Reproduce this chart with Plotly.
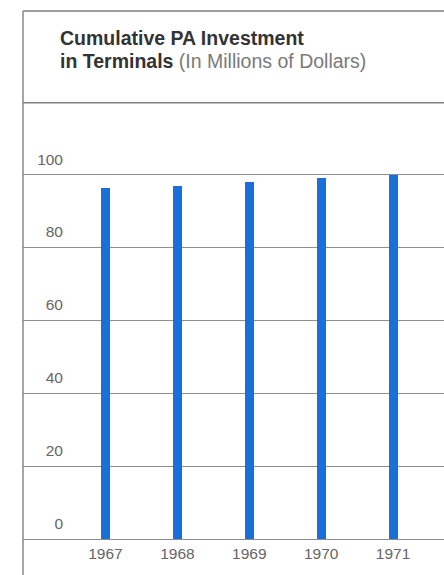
import plotly.graph_objects as go

# Cumulative investment in terminals, millions of dollars
years = ["1967", "1968", "1969", "1970", "1971"]
investment = [96.5, 96.9, 98.0, 99.1, 100.0]
y_ticks = [0, 20, 40, 60, 80, 100]

W, H = 444, 575
ML, MT = 23, 11
PW, PH = W - ML, H - MT

def py(pixel_y):
    """Convert a pixel row (from top) to paper coordinates."""
    return (H - pixel_y) / PH

def px(pixel_x):
    return (pixel_x - ML) / PW

grid_col = "#8e8e8e"
frame_col = "#808080"
tick_col = "#666666"
font_family = "Liberation Sans, Arial, Helvetica, sans-serif"

fig = go.Figure(
    go.Bar(
        x=list(range(len(years))),
        y=investment,
        width=0.125,
        marker=dict(color="#1b6fd8", line=dict(width=0)),
        hoverinfo="skip",
    )
)

fig.update_layout(
    width=W,
    height=H,
    margin=dict(l=ML, r=0, t=MT, b=0, pad=0),
    paper_bgcolor="white",
    plot_bgcolor="white",
    showlegend=False,
    font=dict(family=font_family, color=tick_col),
    bargap=0,
    xaxis=dict(
        range=[-1.147, 4.708],
        tickvals=list(range(len(years))),
        ticktext=years,
        tickfont=dict(size=15.5, color=tick_col),
        showgrid=False,
        zeroline=False,
        showline=False,
        ticks="",
        ticklabelstandoff=3,
        anchor="free",
        position=py(539.3),
        fixedrange=True,
    ),
    yaxis=dict(
        range=[-9.8, 145.0],
        tickvals=y_ticks,
        tickfont=dict(size=15.5, color=tick_col),
        showgrid=True,
        gridcolor=grid_col,
        gridwidth=1.3,
        zeroline=False,
        showline=False,
        ticks="",
        anchor="free",
        position=px(63),
        ticklabelposition="outside top",
        ticklabelshift=-5,
        fixedrange=True,
    ),
    shapes=[
        # outer frame: left edge and top edge
        dict(type="line", xref="paper", yref="paper", x0=0, x1=0, y0=0, y1=1,
             line=dict(color=frame_col, width=1.4)),
        dict(type="line", xref="paper", yref="paper", x0=0, x1=1, y0=1, y1=1,
             line=dict(color=frame_col, width=1.4)),
        # rule under the heading
        dict(type="line", xref="paper", yref="paper", x0=0, x1=1,
             y0=py(102.7), y1=py(102.7),
             line=dict(color=frame_col, width=1.4)),
    ],
    annotations=[
        dict(text="<b>Cumulative PA Investment</b>", xref="paper", yref="paper",
             x=px(58), y=py(38), xanchor="left", yanchor="middle",
             showarrow=False, font=dict(size=19.5, color="#333333")),
        dict(text="<b>in Terminals</b> <span style='color:#7a7a7a'>(In Millions of Dollars)</span>",
             xref="paper", yref="paper",
             x=px(58), y=py(61), xanchor="left", yanchor="middle",
             showarrow=False, font=dict(size=19.5, color="#333333")),
    ],
)

fig.write_html("out.html")
